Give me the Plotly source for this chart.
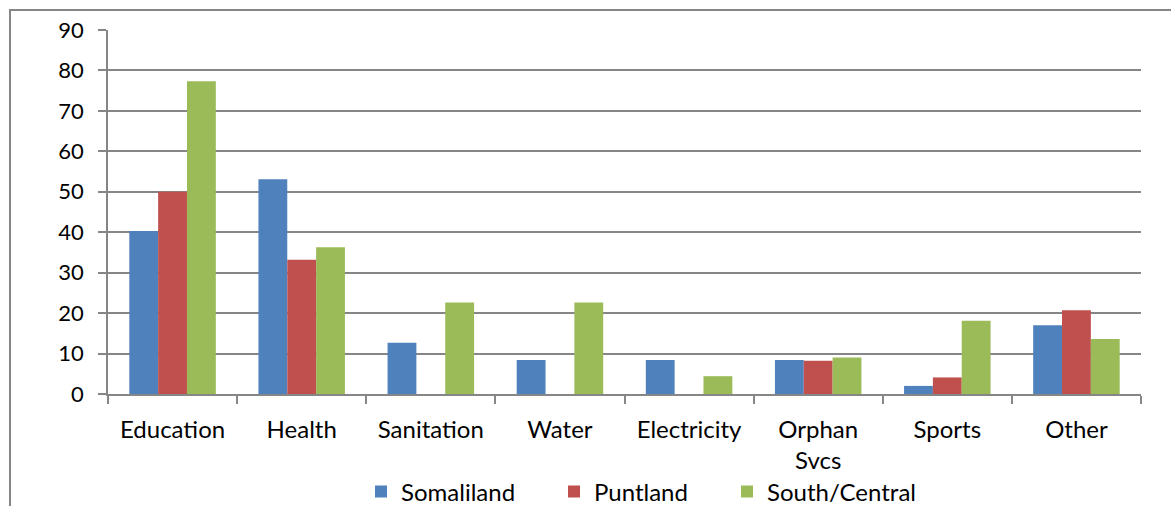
import plotly.graph_objects as go

categories = ["Education", "Health", "Sanitation", "Water", "Electricity", "Orphan<br>Svcs", "Sports", "Other"]
somaliland = [40.3, 53.1, 12.7, 8.4, 8.4, 8.4, 2.0, 17.0]
puntland = [50.0, 33.2, 0, 0, 0, 8.2, 4.1, 20.7]
south_central = [77.3, 36.3, 22.6, 22.6, 4.4, 9.0, 18.1, 13.6]
y_ticks = [0, 10, 20, 30, 40, 50, 60, 70, 80, 90]

series = [
    ("Somaliland", somaliland, "#4F81BD"),
    ("Puntland", puntland, "#C0504D"),
    ("South/Central", south_central, "#9BBB59"),
]

W, H = 1171, 506
L, R, T, B = 108, 30, 30, 112
pw, ph = W - L - R, H - T - B

grid = "#868686"
fam = "Lato, 'Open Sans', sans-serif"
tick_font = dict(family=fam, size=22, color="#000000")
cat_font = dict(family=fam, size=24, color="#000000")

# legend symbol centre pixel positions
legend_x = [381, 574, 747]
legend_names = ["legend", "legend2", "legend3"]

fig = go.Figure()
for (name, vals, color), lg in zip(series, legend_names):
    fig.add_trace(go.Bar(x=categories, y=vals, name=name, legend=lg, showlegend=True,
                         marker=dict(color=color, line=dict(width=0))))

def px_x(p):
    return (p - L) / pw

def px_y(p):
    return (H - B - p) / ph

legends = {}
for lg, cx in zip(legend_names, legend_x):
    legends[lg] = dict(orientation="h", xref="container", yref="container",
                       x=(cx - 20) / W, xanchor="left", y=(H - 492) / H, yanchor="middle",
                       font=cat_font, itemwidth=30, bgcolor="rgba(0,0,0,0)",
                       borderwidth=0, visible=True)

fig.update_layout(
    width=W, height=H,
    margin=dict(l=L, r=R, t=T, b=B, autoexpand=False),
    paper_bgcolor="white", plot_bgcolor="white",
    font=cat_font,
    showlegend=True,
    barmode="group", bargap=0.33, bargroupgap=0,
    shapes=[dict(type="path", xref="paper", yref="paper",
                 path=f"M {px_x(10)},{px_y(H + 5)} L {px_x(10)},{px_y(10)} L {px_x(W + 5)},{px_y(10)}",
                 line=dict(color=grid, width=2))],
    **legends,
)
fig.update_yaxes(range=[0, 90], tickvals=y_ticks, showgrid=True, gridcolor=grid, gridwidth=1.6,
                 showline=True, linecolor=grid, linewidth=1.6, ticks="outside", ticklen=8,
                 tickcolor=grid, tickwidth=1.6, zeroline=False, ticklabelstandoff=10,
                 tickfont=tick_font, fixedrange=True)
fig.update_xaxes(showline=True, linecolor=grid, linewidth=1.6, ticks="outside", ticklen=8,
                 tickcolor=grid, tickwidth=1.6, tickson="boundaries", showgrid=False,
                 tickfont=cat_font, ticklabelstandoff=13, fixedrange=True)

fig.write_html("out.html", config={"displayModeBar": False},
               post_script="document.body.style.margin='0';document.documentElement.style.overflow='hidden';")
